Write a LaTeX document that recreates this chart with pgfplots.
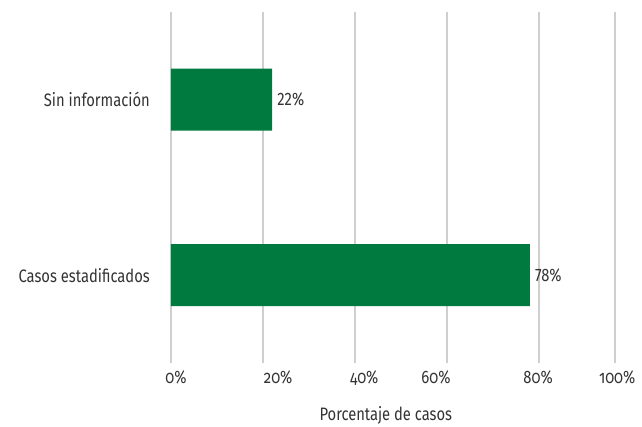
\documentclass[border=0pt]{standalone}
\usepackage{pgfplots}
\pgfplotsset{compat=1.18}
\usepackage{fontspec}
\setmainfont{Fira Sans}[FakeStretch=0.82]
\newfontfamily\oldnum{Fira Sans}[FakeStretch=0.82, Numbers=OldStyle]
\definecolor{barverde}{HTML}{007A3E}
\definecolor{rejilla}{HTML}{CFCFCF}
\definecolor{texto}{HTML}{333333}
\begin{document}
\begin{tikzpicture}[font=\fontsize{18}{21}\selectfont, text=texto]
\useasboundingbox (-171pt,-64pt) rectangle (471pt,363pt);
\begin{axis}[
  at={(0,0)}, anchor=south west,
  scale only axis,
  width=460pt, height=351pt,
  xmin=0, xmax=100,
  ymin=-0.5, ymax=1.5,
  xbar,
  bar width=62pt,
  axis line style={draw=none},
  major tick length=0pt,
  tick style={draw=none},
  /pgf/number format/assume math mode=true,
  ytick={0,1},
  yticklabels={Casos estadificados, Sin información},
  yticklabel style={anchor=east, inner sep=0pt, xshift=-21pt},
  xtick={1.1,23.3,42.0,57.6,79.8,97.0},
  xticklabels={{\oldnum 0\%},{\oldnum 20\%},{\oldnum 40\%},{\oldnum 60\%},{\oldnum 80\%},{\oldnum 100\%}},
  xticklabel style={anchor=base, inner sep=0pt, yshift=-21pt},
  extra x ticks={0,20,40,60,80,96.5},
  extra x tick labels={},
  extra x tick style={grid=major, major grid style={draw=rejilla, line width=1.6pt}},
  xlabel={Porcentaje de casos},
  xlabel style={at={(axis description cs:0.467,0)}, anchor=center, yshift=-52pt},
  nodes near coords={\pgfmathprintnumber{\pgfplotspointmeta}\%},
  nodes near coords align={horizontal},
  every node near coord/.append style={anchor=west, inner sep=0pt, xshift=5pt, text=texto},
  point meta=x,
]
\addplot[fill=barverde, draw=none] coordinates {(78,0) (22,1)};
\end{axis}
\end{tikzpicture}
\end{document}
